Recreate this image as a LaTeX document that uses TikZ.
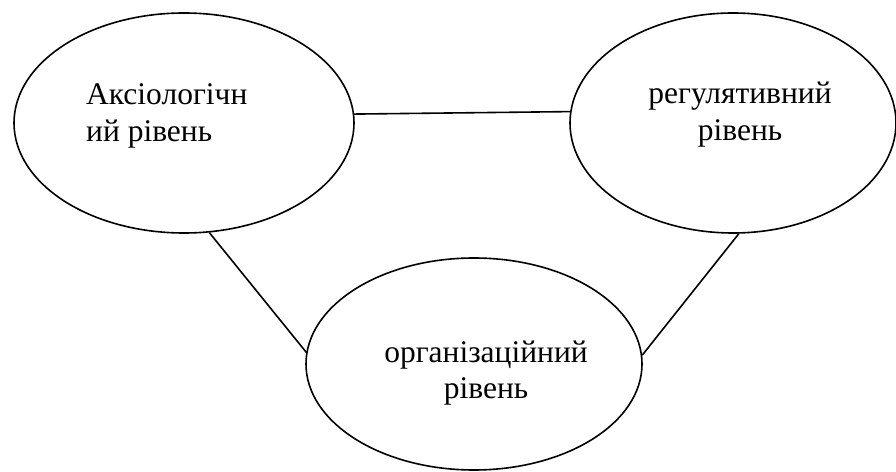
\documentclass[tikz,border=0pt]{standalone}
\usepackage{fontspec}
\setmainfont{Liberation Serif}
\usetikzlibrary{shapes.geometric}
\begin{document}
\begin{tikzpicture}[x=1pt,y=1pt,
  level/.style={draw, ellipse, line width=1.6pt, inner sep=0pt},
  lbl/.style={font=\fontsize{31.5}{37}\selectfont, inner sep=0pt},
  link/.style={line width=1.6pt}]
\useasboundingbox (0,0) rectangle (896,471);
% the three levels
\node[level, minimum width=340pt, minimum height=220pt] (L) at (184,348) {};
\node[level, minimum width=326pt, minimum height=220pt] (R) at (733,348) {};
\node[level, minimum width=336pt, minimum height=212pt] (B) at (474,107) {};
% their captions (anchored at the baseline of the second line)
\node[lbl, anchor=base west, align=left] (Lt) at (86,329) {Аксіологічн\\ий рівень};
\node[lbl, anchor=base, align=center] (Rt) at (740,330) {регулятивний\\рівень};
\node[lbl, anchor=base, align=center] (Bt) at (486,72) {організаційний\\рівень};
% links between the levels
\draw[link] (L.3.4) -- (R.176.5);
\draw[link] (L.-77.2) -- (B.176.3);
\draw[link] (R.-87.4) -- (B.3.7);
\end{tikzpicture}
\end{document}
